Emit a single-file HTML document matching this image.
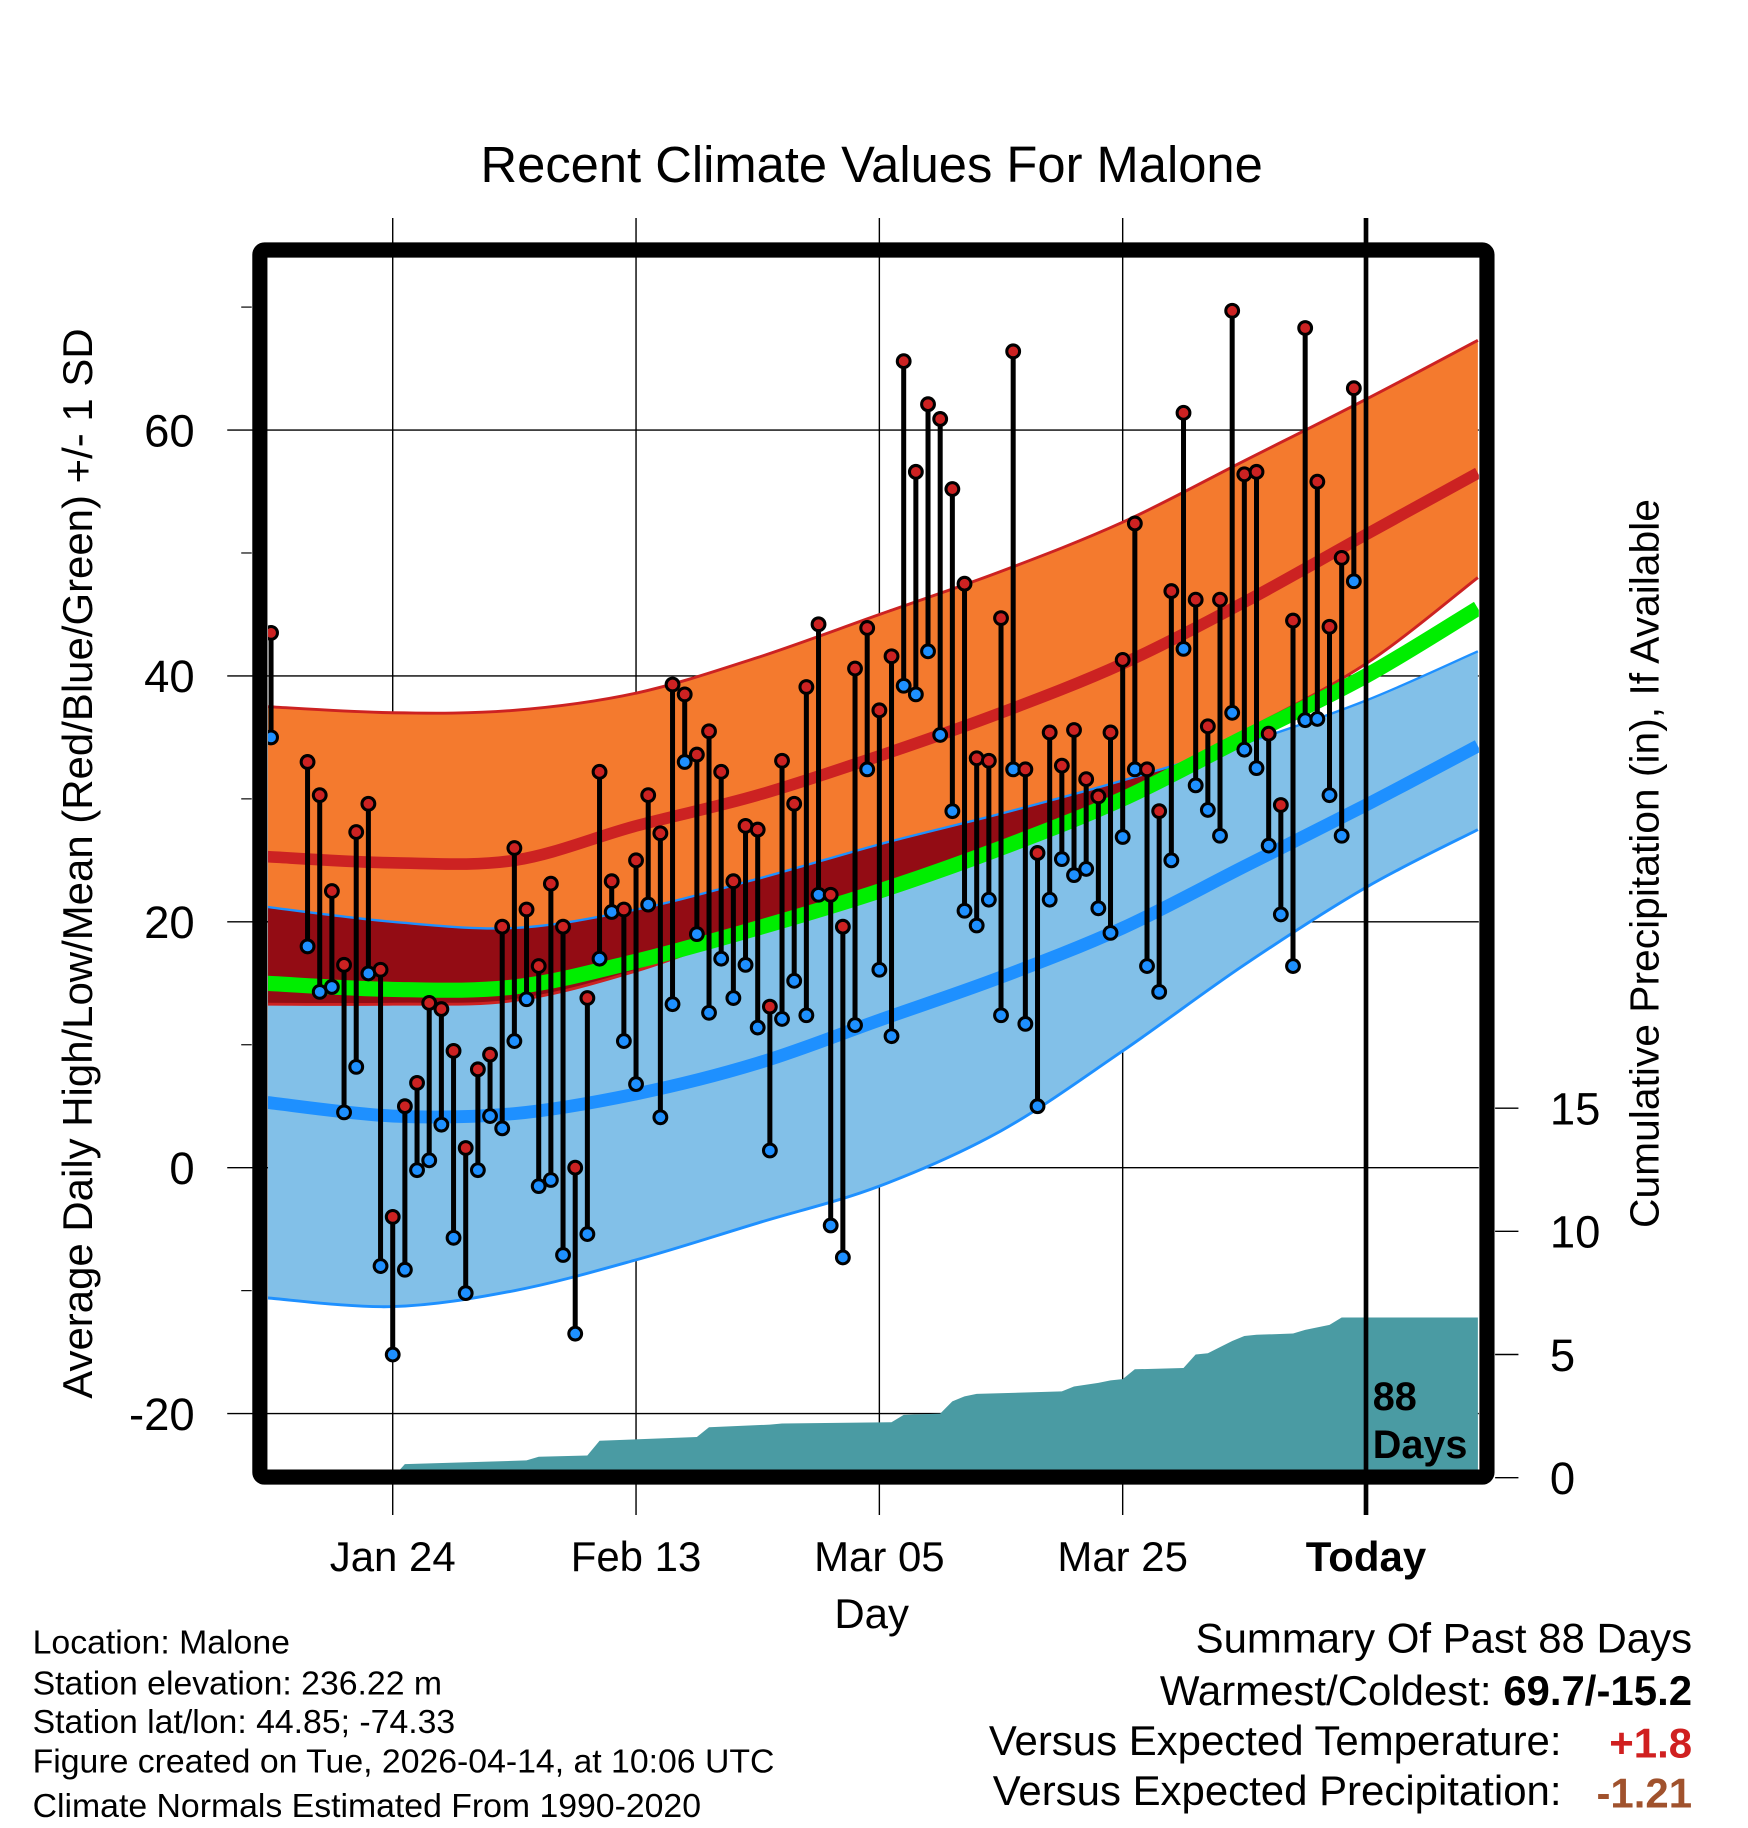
<!DOCTYPE html>
<html><head><meta charset="utf-8"><style>
html,body{margin:0;padding:0;background:#fff;}
svg{display:block;font-family:"Liberation Sans",sans-serif;}
</style></head><body>
<svg id="chart" xmlns="http://www.w3.org/2000/svg" width="1748" height="1828" viewBox="0 0 1500 1568.6">
<defs>
<clipPath id="plotClip"><rect x="230" y="221" width="1039" height="1040"/></clipPath>
<clipPath id="lowClip"><path id="lowClipPath" d=""/></clipPath>
</defs>
<rect x="0" y="0" width="1500" height="1568.6" fill="#fff"/>
<text x="748" y="156" font-size="43.5" text-anchor="middle">Recent Climate Values For Malone</text>
<g id="grid"></g>
<g id="plot" clip-path="url(#plotClip)"></g>
<g id="axes"></g>
<rect x="223" y="214.5" width="1053" height="1053" fill="none" stroke="#000" stroke-width="13" rx="4"/>
<text x="1178" y="1210" font-size="34" font-weight="bold">88</text>
<text x="1178" y="1251" font-size="34" font-weight="bold">Days</text>
<text transform="translate(79,741) rotate(-90)" font-size="36" text-anchor="middle">Average Daily High/Low/Mean (Red/Blue/Green) +/- 1 SD</text>
<text transform="translate(1423,741) rotate(-90)" font-size="35" text-anchor="middle">Cumulative Precipitation (in), If Available</text>
<text x="748" y="1397" font-size="36" text-anchor="middle">Day</text>
<g font-size="29">
<text x="28" y="1419">Location: Malone</text>
<text x="28" y="1454">Station elevation: 236.22 m</text>
<text x="28" y="1487">Station lat/lon: 44.85; -74.33</text>
<text x="28" y="1521">Figure created on Tue, 2026-04-14, at 10:06 UTC</text>
<text x="28" y="1559">Climate Normals Estimated From 1990-2020</text>
</g>
<g font-size="36">
<text x="1452" y="1418" text-anchor="end">Summary Of Past 88 Days</text>
<text x="1452" y="1463" text-anchor="end">Warmest/Coldest: <tspan font-weight="bold">69.7/-15.2</tspan></text>
<text x="1340" y="1506" text-anchor="end">Versus Expected Temperature:</text>
<text x="1452" y="1508" text-anchor="end" font-weight="bold" fill="#d02020">+1.8</text>
<text x="1340" y="1549" text-anchor="end">Versus Expected Precipitation:</text>
<text x="1452" y="1551" text-anchor="end" font-weight="bold" fill="#a0522d">-1.21</text>
</g>
</svg>
<script>
// observed data: day offset from Jan 24, high, low
const obsDays = [-10,-7,-6,-5,-4,-3,-2,-1,0,1,2,3,4,5,6,7,8,9,10,11,12,13,14,15,16,17,18,19,20,21,22,23,24,25,26,27,28,29,30,31,32,33,34,35,36,37,38,39,40,41,42,43,44,45,46,47,48,49,50,51,52,53,54,55,56,57,58,59,60,61,62,63,64,65,66,67,68,69,70,71,72,73,74,75,76,77,78,79];
const highs = [43.5,33,30.3,22.5,16.5,27.3,29.6,16.1,-4,5,6.9,13.4,12.9,9.5,1.6,8,9.2,19.6,26,21,16.4,23.1,19.6,0,13.8,32.2,23.3,21,25,30.3,27.2,39.3,38.5,33.6,35.5,32.2,23.3,27.8,27.5,13.1,33.1,29.6,39.1,44.2,22.2,19.6,40.6,43.9,37.2,41.6,65.6,56.6,62.1,60.9,55.2,47.5,33.3,33.1,44.7,66.4,32.4,25.6,35.4,32.7,35.6,31.6,30.2,35.4,41.3,52.4,32.4,29,46.9,61.4,46.2,35.9,46.2,69.7,56.4,56.6,35.3,29.5,44.5,68.3,55.8,44,49.6,63.4];
const lows = [35,18,14.3,14.7,4.5,8.2,15.8,-8,-15.2,-8.3,-0.2,0.6,3.5,-5.7,-10.2,-0.2,4.2,3.2,10.3,13.7,-1.5,-1,-7.1,-13.5,-5.4,17,20.8,10.3,6.8,21.4,4.1,13.3,33,19,12.6,17,13.8,16.5,11.4,1.4,12.1,15.2,12.4,22.2,-4.7,-7.3,11.6,32.4,16.1,10.7,39.2,38.5,42,35.2,29,20.9,19.7,21.8,12.4,32.4,11.7,5,21.8,25.1,23.8,24.3,21.1,19.1,26.9,32.4,16.4,14.3,25,42.2,31.1,29.1,27,37,34,32.5,26.2,20.6,16.4,36.4,36.5,30.3,27,47.7];
// normals
const normDays = [-10.3,0,10,20,30,40,50,60,70,80,89.2];
const highUpper = [37.5,37,37.2,38.6,41.5,45,48.5,52.5,57.5,62.5,67.3];
const highMean = [25.3,24.8,25,27.8,30.3,33.5,37,41,46,51.5,56.5];
const highLower = [13.3,13.3,13.6,16,19.5,22.8,26.5,30.5,35.5,41,48];
const meanNorm = [15,14.5,14.7,16.8,19.5,22.5,26,30,35,40,45.5];
const lowUpper = [21.2,20,19.5,21,23.5,26.3,28.8,31.5,34.5,38,42];
const lowMean = [5.3,4.2,4.4,6,8.5,12,15.5,19.5,24.5,29.5,34.3];
const lowLower = [-10.6,-11.3,-10,-7.5,-4.5,-1.5,3,9.5,16.5,22.8,27.5];
// cumulative precipitation (in)
const precipDays = [-10.3,0,1,11,12,16,17,25,26,31,32,41,42,45,46,47,48,55,56,58,59,60,61,65,66,67,68,69,70,71,74,75,77,78,89.2];
const precipVals = [0,0,0.55,0.7,0.85,0.9,1.5,1.65,2.05,2.15,2.2,2.25,2.55,2.6,3.1,3.3,3.4,3.5,3.7,3.85,3.95,4.0,4.4,4.45,5.0,5.05,5.3,5.55,5.75,5.8,5.85,6.0,6.2,6.5,6.5];
const yTicks = [-20,0,20,40,60];
const yMinor = [-10,10,30,50,70];
const pTicks = [0,5,10,15];
const xTickDays = [0,20,40,60,80];
const xTickLabels = ["Jan 24","Feb 13","Mar 05","Mar 25","Today"];

const X = d => 337 + d*10.44;
const Y = v => 1002 - v*10.55;
const YP = p => 1268 - p*21.14;
const NS = "http://www.w3.org/2000/svg";
function mk(tag, parent, attrs){const e=document.createElementNS(NS,tag);for(const k in attrs)e.setAttribute(k,attrs[k]);parent.appendChild(e);return e;}
function smooth(pts, start){
  let s=(start||"M")+pts[0][0].toFixed(1)+","+pts[0][1].toFixed(1);
  for(let i=0;i<pts.length-1;i++){
    const p0=pts[Math.max(0,i-1)],p1=pts[i],p2=pts[i+1],p3=pts[Math.min(pts.length-1,i+2)];
    const c1=[p1[0]+(p2[0]-p0[0])/6,p1[1]+(p2[1]-p0[1])/6];
    const c2=[p2[0]-(p3[0]-p1[0])/6,p2[1]-(p3[1]-p1[1])/6];
    s+="C"+c1[0].toFixed(1)+","+c1[1].toFixed(1)+" "+c2[0].toFixed(1)+","+c2[1].toFixed(1)+" "+p2[0].toFixed(1)+","+p2[1].toFixed(1);
  }
  return s;
}
function curve(ds,vs){return ds.map((d,i)=>[X(d),Y(vs[i])]);}
function linePath(ds,vs){return smooth(curve(ds,vs));}
function bandPath(ds, up, lo){return smooth(curve(ds,up))+smooth(curve(ds,lo).reverse(),"L")+"Z";}

const grid=document.getElementById('grid'), plot=document.getElementById('plot'), axes=document.getElementById('axes');
yTicks.forEach(v=>{
  const g=mk('line',grid,{x1:195,x2:1269,y1:Y(v),y2:Y(v),stroke:'#000','stroke-width':1.2});
  
  
  const t=mk('text',axes,{x:167,y:Y(v)+14,'font-size':39,'text-anchor':'end'});
  t.textContent=v;
  
  
});
yMinor.forEach(v=>{const g=mk('line',grid,{x1:207,x2:216,y1:Y(v),y2:Y(v),stroke:'#000','stroke-width':1});
  
  });
xTickDays.forEach((d,i)=>{
  const g=mk('line',grid,{x1:X(d),x2:X(d),y1:187,y2:1300,stroke:'#000','stroke-width':1.2});
  
  
  const t=mk('text',axes,{x:X(d),y:1348,'font-size':36,'text-anchor':'middle'});
  if(i===4)t.setAttribute('font-weight','bold');
  t.textContent=xTickLabels[i];
  
  
});
pTicks.forEach(p=>{
  const l=mk('line',axes,{x1:1283,x2:1303,y1:YP(p),y2:YP(p),stroke:'#000','stroke-width':1.2});
  
  
  const t=mk('text',axes,{x:1330,y:YP(p)+14,'font-size':39});
  t.textContent=p;
  
  
});
document.getElementById('lowClipPath').setAttribute('d',bandPath(normDays,lowUpper,lowLower));
const lb=mk('path',plot,{d:bandPath(normDays,lowUpper,lowLower),fill:'#82c0e8'});


const hb=mk('path',plot,{d:bandPath(normDays,highUpper,highLower),fill:'#f47a2e'});


const ov=mk('path',plot,{d:bandPath(normDays,highUpper,highLower),fill:'#930c14','clip-path':'url(#lowClip)'});


[[highUpper,'#cc2222',2.5,'high-upper-edge'],[highLower,'#cc2222',2.5,'high-lower-edge'],[lowUpper,'#1e90ff',2,'low-upper-edge'],[lowLower,'#1e90ff',2.5,'low-lower-edge'],
 [highMean,'#cc2222',10,'normal-high-line'],[meanNorm,'#00ee00',13,'normal-mean-line'],[lowMean,'#1e90ff',11,'normal-low-line']].forEach(a=>{
  const p=mk('path',plot,{d:linePath(normDays,a[0]),fill:'none',stroke:a[1],'stroke-width':a[2]});
  
  
});
let pd="M"+X(precipDays[0])+","+YP(0);
precipDays.forEach((d,i)=>{pd+="L"+X(d).toFixed(1)+","+YP(precipVals[i]).toFixed(1);});
pd+="L"+X(precipDays[precipDays.length-1])+","+YP(0)+"Z";
const pa=mk('path',plot,{d:pd,fill:'#4a9ba3'});


obsDays.forEach((d,i)=>{
  const s=mk('line',plot,{x1:X(d),x2:X(d),y1:Y(highs[i]),y2:Y(lows[i]),stroke:'#000','stroke-width':4.3});
  
  
});
obsDays.forEach((d,i)=>{
  const l=mk('circle',plot,{cx:X(d),cy:Y(lows[i]),r:5.5,fill:'#1e90ff',stroke:'#000','stroke-width':2.6});
  
  
  const h=mk('circle',plot,{cx:X(d),cy:Y(highs[i]),r:5.5,fill:'#cc2222',stroke:'#000','stroke-width':2.6});
  
  
});
const tl=mk('line',axes,{x1:X(80),x2:X(80),y1:187,y2:1300,stroke:'#000','stroke-width':4});


</script>
</body></html>
